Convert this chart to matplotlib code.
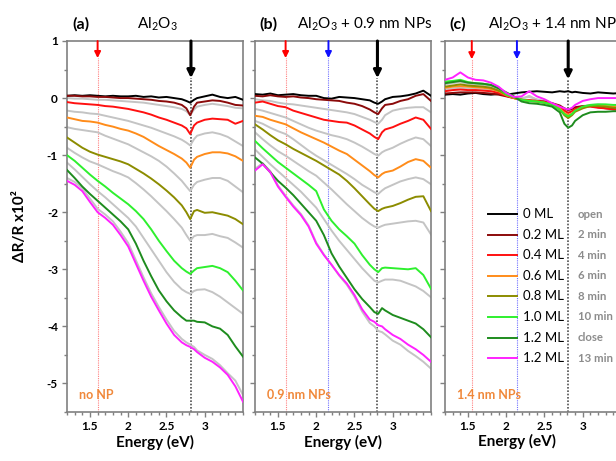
import matplotlib
matplotlib.use('Agg')
import matplotlib.pyplot as plt
from matplotlib.ticker import MultipleLocator

plt.rcParams['font.family'] = ['Lato', 'DejaVu Sans']
plt.rcParams['mathtext.fontset'] = 'custom'
plt.rcParams['mathtext.rm'] = 'Lato'
plt.rcParams['mathtext.it'] = 'Lato:italic'
plt.rcParams['mathtext.bf'] = 'Lato:bold'

# ---------------- data ----------------
energy = [1.2, 1.3, 1.4, 1.5, 1.6, 1.7, 1.8, 1.9, 2.0, 2.1, 2.2, 2.3, 2.4, 2.5, 2.6, 2.7,
          2.76, 2.81, 2.86, 2.9, 3.0, 3.1, 3.2, 3.3, 3.4, 3.5]

labels_ml = ['0 ML', '0.2 ML', '0.4 ML', '0.6 ML', '0.8 ML', '1.0 ML', '1.2 ML', '1.2 ML']
labels_time = ['open', '2 min', '4 min', '6 min', '8 min', '10 min', 'close', '13 min']
colors = ['#000000', '#8B0A0A', '#FF1010', '#FF8C1A', '#8C8C00', '#2EF02E', '#1E8C1E', '#FF22FF']

# panel (a): Al2O3, no NP
a_0 = [0.04, 0.05, 0.04, 0.05, 0.04, 0.03, 0.04, 0.03, 0.03, 0.04, 0.02, 0.03, 0.01, 0.02, 0.0, -0.02,
       -0.05, -0.08, -0.03, 0.0, 0.03, 0.06, 0.02, 0.0, 0.02, -0.03]
a_02 = [0.04, 0.04, 0.03, 0.03, 0.02, 0.02, 0.01, 0.0, 0.0, -0.01, -0.02, -0.03, -0.05, -0.06, -0.08, -0.12,
        -0.18, -0.30, -0.15, -0.08, -0.06, -0.04, -0.05, -0.08, -0.12, -0.13]
a_04 = [-0.07, -0.09, -0.10, -0.11, -0.12, -0.14, -0.15, -0.17, -0.19, -0.22, -0.25, -0.29, -0.34, -0.38, -0.43, -0.48,
        -0.53, -0.63, -0.48, -0.43, -0.38, -0.36, -0.37, -0.38, -0.45, -0.40]
a_06 = [-0.34, -0.37, -0.40, -0.41, -0.43, -0.47, -0.50, -0.54, -0.57, -0.62, -0.68, -0.76, -0.84, -0.91, -0.98, -1.06,
        -1.13, -1.22, -1.08, -1.03, -0.98, -0.95, -0.95, -0.97, -1.02, -1.10]
a_08 = [-0.69, -0.78, -0.87, -0.94, -0.99, -1.03, -1.07, -1.11, -1.16, -1.24, -1.32, -1.41, -1.51, -1.62, -1.74, -1.88,
        -2.00, -2.12, -1.98, -1.96, -2.01, -2.00, -2.03, -2.06, -2.12, -2.21]
a_10 = [-1.00, -1.10, -1.22, -1.34, -1.45, -1.55, -1.66, -1.76, -1.86, -1.98, -2.12, -2.30, -2.50, -2.68, -2.85, -2.98,
        -3.04, -3.08, -3.02, -2.98, -2.96, -2.94, -2.98, -3.05, -3.20, -3.37]
a_12 = [-1.26, -1.40, -1.55, -1.68, -1.80, -1.92, -2.04, -2.16, -2.30, -2.55, -2.85, -3.12, -3.37, -3.56, -3.72, -3.84,
        -3.90, -3.90, -3.90, -3.92, -3.93, -4.00, -4.04, -4.15, -4.35, -4.53]
a_13 = [-1.45, -1.52, -1.63, -1.82, -2.00, -2.10, -2.22, -2.40, -2.60, -2.90, -3.20, -3.48, -3.72, -3.95, -4.15, -4.28,
        -4.33, -4.36, -4.40, -4.45, -4.55, -4.62, -4.72, -4.85, -5.05, -5.32]
a_gray1 = [0.0, -0.01, -0.01, -0.02, -0.03, -0.03, -0.04, -0.05, -0.06, -0.07, -0.08, -0.10, -0.12, -0.14, -0.16, -0.19,
           -0.23, -0.30, -0.20, -0.15, -0.12, -0.10, -0.12, -0.14, -0.17, -0.18]
a_gray2 = [-0.22, -0.24, -0.25, -0.27, -0.28, -0.31, -0.34, -0.37, -0.40, -0.44, -0.48, -0.52, -0.57, -0.62, -0.67, -0.73,
           -0.78, -0.83, -0.72, -0.66, -0.62, -0.60, -0.63, -0.68, -0.76, -0.84]
a_gray3 = [-0.51, -0.54, -0.56, -0.58, -0.60, -0.66, -0.71, -0.76, -0.81, -0.88, -0.95, -1.02, -1.10, -1.20, -1.32, -1.45,
           -1.55, -1.63, -1.52, -1.47, -1.43, -1.40, -1.40, -1.45, -1.55, -1.65]
a_gray4 = [-0.87, -0.96, -1.04, -1.11, -1.16, -1.22, -1.28, -1.33, -1.39, -1.49, -1.60, -1.72, -1.85, -1.98, -2.12, -2.27,
           -2.40, -2.50, -2.42, -2.40, -2.40, -2.38, -2.42, -2.45, -2.53, -2.62]
a_gray5 = [-1.13, -1.25, -1.38, -1.51, -1.63, -1.74, -1.86, -1.98, -2.10, -2.25, -2.45, -2.65, -2.85, -3.05, -3.22, -3.35,
           -3.40, -3.43, -3.38, -3.36, -3.35, -3.40, -3.48, -3.58, -3.68, -3.78]
a_gray6 = [-1.40, -1.47, -1.58, -1.76, -1.94, -2.04, -2.16, -2.34, -2.54, -2.84, -3.14, -3.42, -3.66, -3.88, -4.08, -4.22,
           -4.28, -4.32, -4.36, -4.42, -4.50, -4.57, -4.68, -4.82, -4.95, -5.20]

# panel (b): Al2O3 + 0.9 nm NPs
b_0 = [0.07, 0.06, 0.08, 0.05, 0.06, 0.07, 0.05, 0.04, 0.04, 0.0, -0.01, 0.02, 0.01, 0.0, -0.02, -0.04,
       -0.08, -0.10, -0.06, -0.02, 0.02, 0.03, 0.05, 0.08, 0.13, 0.04]
b_02 = [0.04, 0.03, 0.05, 0.03, 0.02, 0.03, 0.01, 0.0, -0.02, -0.03, -0.04, -0.05, -0.08, -0.10, -0.14, -0.20,
        -0.25, -0.28, -0.18, -0.12, -0.10, -0.05, -0.02, 0.04, 0.07, -0.05]
b_04 = [-0.08, -0.06, -0.10, -0.14, -0.16, -0.22, -0.26, -0.30, -0.34, -0.38, -0.40, -0.42, -0.43, -0.48, -0.55, -0.62,
        -0.68, -0.72, -0.60, -0.55, -0.51, -0.45, -0.40, -0.34, -0.38, -0.54]
b_06 = [-0.31, -0.33, -0.38, -0.42, -0.46, -0.53, -0.60, -0.66, -0.72, -0.78, -0.85, -0.92, -0.98, -1.08, -1.18, -1.28,
        -1.35, -1.39, -1.33, -1.30, -1.27, -1.20, -1.12, -1.07, -1.10, -1.22]
b_08 = [-0.46, -0.55, -0.65, -0.74, -0.81, -0.89, -0.96, -1.03, -1.10, -1.18, -1.26, -1.34, -1.45, -1.58, -1.72, -1.86,
        -1.94, -1.98, -1.94, -1.92, -1.89, -1.84, -1.78, -1.73, -1.72, -1.98]
b_10 = [-0.75, -0.88, -1.00, -1.12, -1.22, -1.32, -1.42, -1.52, -1.63, -1.95, -2.15, -2.30, -2.42, -2.55, -2.75, -2.92,
        -3.00, -3.05, -2.98, -2.97, -2.98, -2.99, -3.00, -2.98, -3.10, -3.34]
b_12 = [-1.04, -1.15, -1.30, -1.45, -1.57, -1.70, -1.85, -2.00, -2.15, -2.40, -2.72, -2.95, -3.15, -3.35, -3.52, -3.66,
        -3.75, -3.78, -3.68, -3.72, -3.80, -3.85, -3.90, -3.95, -4.05, -4.19]
b_13 = [-1.27, -1.16, -1.30, -1.55, -1.73, -1.90, -2.05, -2.25, -2.55, -2.75, -2.92, -3.10, -3.25, -3.45, -3.70, -3.88,
        -3.92, -3.98, -4.00, -4.05, -4.15, -4.22, -4.32, -4.40, -4.50, -4.62]
b_gray1 = [-0.02, -0.04, -0.05, -0.08, -0.10, -0.11, -0.13, -0.15, -0.17, -0.19, -0.21, -0.23, -0.25, -0.28, -0.33, -0.38,
           -0.42, -0.45, -0.38, -0.30, -0.22, -0.19, -0.17, -0.16, -0.16, -0.25]
b_gray2 = [-0.19, -0.22, -0.26, -0.30, -0.34, -0.40, -0.46, -0.52, -0.57, -0.61, -0.65, -0.68, -0.72, -0.78, -0.85, -0.93,
           -0.98, -1.01, -0.95, -0.92, -0.87, -0.80, -0.74, -0.69, -0.72, -0.84]
b_gray3 = [-0.40, -0.45, -0.52, -0.58, -0.63, -0.72, -0.82, -0.92, -1.01, -1.09, -1.17, -1.25, -1.33, -1.42, -1.52, -1.60,
           -1.65, -1.68, -1.62, -1.58, -1.52, -1.46, -1.42, -1.39, -1.42, -1.51]
b_gray4 = [-0.60, -0.72, -0.83, -0.93, -1.01, -1.10, -1.19, -1.28, -1.36, -1.48, -1.60, -1.73, -1.86, -1.98, -2.10, -2.20,
           -2.25, -2.27, -2.24, -2.22, -2.20, -2.18, -2.16, -2.15, -2.18, -2.39]
b_gray5 = [-0.90, -1.03, -1.16, -1.28, -1.40, -1.52, -1.64, -1.78, -1.92, -2.12, -2.32, -2.50, -2.66, -2.82, -2.98, -3.12,
           -3.20, -3.23, -3.20, -3.18, -3.18, -3.20, -3.25, -3.30, -3.38, -3.49]
b_gray6 = [-1.24, -1.14, -1.28, -1.53, -1.71, -1.88, -2.03, -2.23, -2.53, -2.74, -2.92, -3.11, -3.27, -3.48, -3.74, -3.94,
           -4.00, -4.08, -4.10, -4.14, -4.25, -4.32, -4.43, -4.52, -4.62, -4.74]

# panel (c): Al2O3 + 1.4 nm NPs
c_0 = [0.06, 0.07, 0.06, 0.08, 0.09, 0.07, 0.06, 0.07, 0.06, 0.08, 0.10, 0.11, 0.12, 0.11, 0.10, 0.12,
       0.11, 0.12, 0.10, 0.11, 0.09, 0.08, 0.10, 0.09, 0.08, 0.09]
c_02 = [0.08, 0.09, 0.10, 0.10, 0.10, 0.09, 0.08, 0.06, 0.03, 0.0, -0.03, -0.04, -0.05, -0.06, -0.09, -0.13,
        -0.18, -0.21, -0.19, -0.16, -0.14, -0.14, -0.16, -0.18, -0.19, -0.20]
c_04 = [0.12, 0.14, 0.15, 0.14, 0.14, 0.13, 0.12, 0.09, 0.04, 0.0, -0.03, -0.04, -0.05, -0.07, -0.10, -0.15,
        -0.22, -0.26, -0.23, -0.19, -0.15, -0.15, -0.17, -0.18, -0.20, -0.21]
c_06 = [0.18, 0.20, 0.21, 0.20, 0.19, 0.18, 0.16, 0.12, 0.05, 0.0, -0.03, -0.05, -0.06, -0.08, -0.11, -0.18,
        -0.26, -0.30, -0.27, -0.22, -0.16, -0.13, -0.13, -0.14, -0.15, -0.16]
c_08 = [0.20, 0.22, 0.24, 0.22, 0.21, 0.20, 0.18, 0.13, 0.06, 0.01, -0.03, -0.05, -0.06, -0.08, -0.12, -0.20,
        -0.30, -0.35, -0.30, -0.24, -0.18, -0.14, -0.14, -0.15, -0.17, -0.18]
c_10 = [0.29, 0.30, 0.32, 0.28, 0.26, 0.25, 0.23, 0.18, 0.06, 0.02, -0.03, -0.05, -0.06, -0.08, -0.12, -0.20,
        -0.28, -0.32, -0.28, -0.22, -0.15, -0.12, -0.11, -0.11, -0.12, -0.12]
c_12 = [0.26, 0.28, 0.30, 0.27, 0.26, 0.25, 0.23, 0.17, 0.10, 0.03, -0.06, -0.09, -0.10, -0.12, -0.15, -0.25,
        -0.45, -0.52, -0.48, -0.40, -0.30, -0.25, -0.24, -0.24, -0.23, -0.23]
c_13 = [0.32, 0.36, 0.45, 0.36, 0.32, 0.31, 0.27, 0.20, 0.09, 0.02, 0.03, 0.12, 0.03, -0.02, -0.09, -0.15,
        -0.18, -0.20, -0.17, -0.12, -0.05, -0.02, 0.0, 0.0, 0.0, 0.0]
c_gray1 = [0.15, 0.17, 0.18, 0.17, 0.16, 0.15, 0.13, 0.10, 0.05, 0.02, 0.0, 0.02, -0.02, -0.05, -0.09, -0.15,
           -0.22, -0.25, -0.22, -0.18, -0.14, -0.12, -0.13, -0.14, -0.15, -0.16]
c_gray2 = [0.24, 0.26, 0.28, 0.25, 0.24, 0.23, 0.20, 0.15, 0.07, 0.02, -0.02, 0.04, -0.03, -0.06, -0.11, -0.19,
           -0.27, -0.30, -0.27, -0.21, -0.15, -0.12, -0.11, -0.12, -0.13, -0.13]

panels = [
    dict(tag='(a)', title='Al$_2$O$_3$', note='no NP',
         grays=[a_gray1, a_gray2, a_gray3, a_gray4, a_gray5, a_gray6],
         series=[a_0, a_02, a_04, a_06, a_08, a_10, a_12, a_13],
         vlines=[(1.6, '#FF8080', 'red', 0.70), (2.82, '#505050', 'black', 0.35)]),
    dict(tag='(b)', title='Al$_2$O$_3$ + 0.9 nm NPs', note='0.9 nm NPs',
         grays=[b_gray1, b_gray2, b_gray3, b_gray4, b_gray5, b_gray6],
         series=[b_0, b_02, b_04, b_06, b_08, b_10, b_12, b_13],
         vlines=[(1.6, '#FF8080', 'red', 0.70), (2.16, '#7070FF', '#1010FF', 0.70),
                 (2.8, '#505050', 'black', 0.35)]),
    dict(tag='(c)', title='Al$_2$O$_3$ + 1.4 nm NPs', note='1.4 nm NPs',
         grays=[c_gray1, c_gray2],
         series=[c_0, c_02, c_04, c_06, c_08, c_10, c_12, c_13],
         vlines=[(1.55, '#FF8080', 'red', 0.68), (2.14, '#7070FF', '#1010FF', 0.68),
                 (2.81, '#505050', 'black', 0.33)]),
]

# ---------------- figure ----------------
W, H = 616, 461
fig = plt.figure(figsize=(W / 100, H / 100), dpi=100)
lefts = [67, 255, 445]
ax_w, ax_b, ax_h = 176, 49, 371
spine_col = '#808080'
note_col = '#F0883A'

axes = []
for i, (p, lpx) in enumerate(zip(panels, lefts)):
    ax = fig.add_axes([lpx / W, ax_b / H, ax_w / W, ax_h / H])
    axes.append(ax)
    ax.set_xlim(1.2, 3.5)
    ax.set_ylim(-5.5, 1.0)

    # vertical guide lines + arrows
    for (xv, lc, ac, tip) in p['vlines']:
        dark = lc == '#505050'
        ax.vlines(xv, -5.5, tip, colors=lc, linestyles=(0, (1, 1)),
                  lw=1.2 if dark else 0.8, zorder=1)
        ax.annotate('', xy=(xv, tip), xytext=(xv, 1.0),
                    arrowprops=dict(arrowstyle='-|>', color=ac, lw=2.2 if dark else 1.4,
                                    mutation_scale=11 if dark else 9, shrinkA=0, shrinkB=0),
                    zorder=6, annotation_clip=False)

    for g in p['grays']:
        ax.plot(energy, g, color='#C4C4C4', lw=1.4, zorder=2)
    for s, c in zip(p['series'], colors):
        ax.plot(energy, s, color=c, lw=1.4, zorder=3)

    for sp in ax.spines.values():
        sp.set_color(spine_col)
        sp.set_linewidth(1.2)
    ax.xaxis.set_major_locator(MultipleLocator(0.5))
    ax.xaxis.set_minor_locator(MultipleLocator(0.1))
    ax.yaxis.set_major_locator(MultipleLocator(1))
    ax.yaxis.set_minor_locator(MultipleLocator(0.5))
    ax.tick_params(which='both', direction='out', color=spine_col, width=1.0,
                   top=False, right=False, labelsize=8.5)
    ax.tick_params(which='major', length=3.5, pad=3)
    ax.tick_params(which='minor', length=2)
    ax.set_xticks([1.5, 2, 2.5, 3])
    ax.set_xticklabels(['1.5', '2', '2.5', '3'], fontweight='bold')
    if i == 0:
        ax.set_yticks([-5, -4, -3, -2, -1, 0, 1])
        ax.set_yticklabels(['-5', '-4', '-3', '-2', '-1', '0', '1'], fontweight='bold')
        ax.set_ylabel('ΔR/R x10²', fontsize=11, fontweight='bold', labelpad=14)
    else:
        ax.set_yticklabels([])

    ax.set_xlabel('Energy (eV)', fontsize=11, fontweight='bold', labelpad=2)
    if i == 2:
        ax.xaxis.set_label_coords(0.41, -0.06)

    ax.text(0.066, 0.045, p['note'], transform=ax.transAxes, color=note_col,
            fontsize=9, fontweight='bold', ha='left', va='center')


def fx(px):
    return px / W


def fy(py):
    return 1 - py / H


fig.text(fx(81), fy(24), '(a)', fontsize=11.5, fontweight='bold', ha='center', va='center')
fig.text(fx(157), fy(24), panels[0]['title'], fontsize=11, ha='center', va='center')
fig.text(fx(268), fy(24), '(b)', fontsize=11.5, fontweight='bold', ha='center', va='center')
fig.text(fx(297), fy(24), panels[1]['title'], fontsize=11, ha='left', va='center')
fig.text(fx(458), fy(24), '(c)', fontsize=11.5, fontweight='bold', ha='center', va='center')
fig.text(fx(488), fy(24), panels[2]['title'], fontsize=11, ha='left', va='center')

# legend inside panel (c)
axc = axes[2]
row_y = [214, 234.6, 255.2, 275.8, 296.4, 317, 337.6, 358.2]
for ml, tm, c, py in zip(labels_ml, labels_time, colors, row_y):
    ya = (412 - py) / ax_h
    axc.plot([(488 - 445) / ax_w, (517 - 445) / ax_w], [ya, ya], color=c, lw=1.4,
             transform=axc.transAxes, clip_on=False, zorder=7)
    axc.text((523 - 445) / ax_w, ya, ml, transform=axc.transAxes, fontsize=9.5,
             ha='left', va='center', zorder=7)
    axc.text((578 - 445) / ax_w, ya, tm, transform=axc.transAxes, fontsize=8.2,
             fontweight='bold', color='#8C8C8C', ha='left', va='center', zorder=7)

fig.savefig('out.png', dpi=100)
